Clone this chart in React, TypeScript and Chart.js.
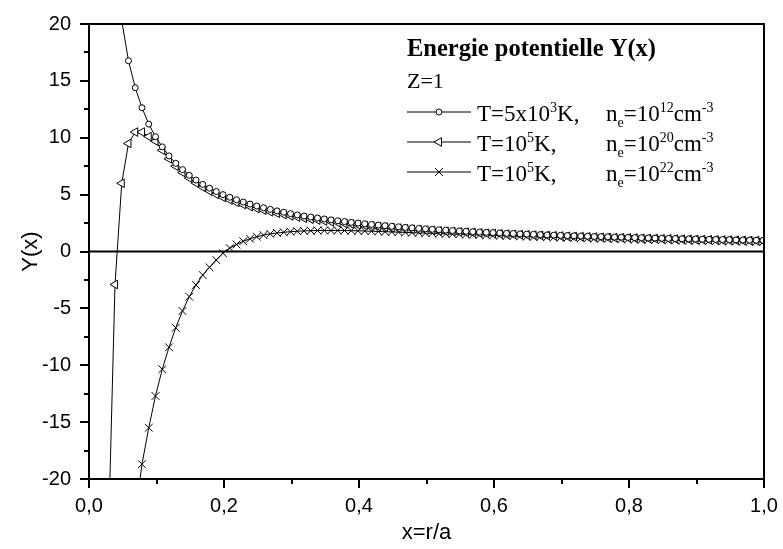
import React, { useEffect, useRef } from 'react';
import { Chart, registerables } from 'chart.js';

Chart.register(...registerables);

// x = r/a sample positions
const xValues = [
  0.0285, 0.0385, 0.0485, 0.0585, 0.0685, 0.0785, 0.0885, 0.0985, 0.1085, 0.1185,
  0.1285, 0.1385, 0.1485, 0.1585, 0.1685, 0.1785, 0.1885, 0.1985, 0.2085, 0.2185,
  0.2285, 0.2385, 0.2485, 0.2585, 0.2685, 0.2785, 0.2885, 0.2985, 0.3085, 0.3185,
  0.3285, 0.3385, 0.3485, 0.3585, 0.3685, 0.3785, 0.3885, 0.3985, 0.4085, 0.4185,
  0.4285, 0.4385, 0.4485, 0.4585, 0.4685, 0.4785, 0.4885, 0.4985, 0.5085, 0.5185,
  0.5285, 0.5385, 0.5485, 0.5585, 0.5685, 0.5785, 0.5885, 0.5985, 0.6085, 0.6185,
  0.6285, 0.6385, 0.6485, 0.6585, 0.6685, 0.6785, 0.6885, 0.6985, 0.7085, 0.7185,
  0.7285, 0.7385, 0.7485, 0.7585, 0.7685, 0.7785, 0.7885, 0.7985, 0.8085, 0.8185,
  0.8285, 0.8385, 0.8485, 0.8585, 0.8685, 0.8785, 0.8885, 0.8985, 0.9085, 0.9185,
  0.9285, 0.9385, 0.9485, 0.9585, 0.9685, 0.9785, 0.9885, 0.9985,
];

// T=5x10^3 K, ne=10^12 cm^-3 (circles)
const seriesCircles = [
  34.0, 25.5, 20.3, 16.77, 14.4, 12.64, 11.2, 10.09, 9.2, 8.4,
  7.75, 7.2, 6.7, 6.28, 5.9, 5.57, 5.27, 5.0, 4.77, 4.55,
  4.35, 4.17, 4.0, 3.85, 3.7, 3.57, 3.45, 3.33, 3.22, 3.12,
  3.03, 2.94, 2.86, 2.78, 2.70, 2.63, 2.56, 2.50, 2.44, 2.38,
  2.32, 2.27, 2.22, 2.17, 2.12, 2.08, 2.03, 1.99, 1.95, 1.91,
  1.88, 1.84, 1.81, 1.78, 1.74, 1.71, 1.68, 1.66, 1.63, 1.60,
  1.58, 1.55, 1.53, 1.51, 1.48, 1.46, 1.44, 1.42, 1.40, 1.38,
  1.36, 1.34, 1.32, 1.31, 1.29, 1.27, 1.26, 1.24, 1.22, 1.21,
  1.19, 1.18, 1.16, 1.15, 1.14, 1.12, 1.11, 1.10, 1.08, 1.07,
  1.06, 1.05, 1.04, 1.02, 1.01, 1.00, 0.99, 0.98,
];

// T=10^5 K, ne=10^20 cm^-3 (triangles)
const seriesTriangles = [
  -25.7, -2.9, 6.0, 9.5, 10.5, 10.5, 10.1, 9.7, 8.9, 8.15,
  7.5, 6.95, 6.45, 6.02, 5.65, 5.32, 5.02, 4.76, 4.53, 4.32,
  4.12, 3.95, 3.78, 3.63, 3.49, 3.36, 3.24, 3.13, 3.03, 2.93,
  2.84, 2.76, 2.68, 2.61, 2.54, 2.47, 2.41, 2.35, 2.29, 2.24,
  2.19, 2.14, 2.09, 2.05, 2.00, 1.96, 1.92, 1.88, 1.85, 1.81,
  1.78, 1.75, 1.72, 1.69, 1.66, 1.63, 1.60, 1.58, 1.55, 1.53,
  1.50, 1.48, 1.46, 1.44, 1.42, 1.40, 1.38, 1.36, 1.34, 1.32,
  1.30, 1.29, 1.27, 1.25, 1.24, 1.22, 1.21, 1.19, 1.18, 1.16,
  1.15, 1.14, 1.12, 1.11, 1.10, 1.08, 1.07, 1.06, 1.05, 1.04,
  1.02, 1.01, 1.00, 0.99, 0.98, 0.97, 0.96, 0.95,
];

// T=10^5 K, ne=10^22 cm^-3 (crosses)
const seriesCrosses = [
  -65, -48, -37, -29, -23.2, -18.7, -15.5, -12.7, -10.36, -8.42,
  -6.7, -5.23, -3.97, -2.94, -2.07, -1.39, -0.75, -0.15, 0.3, 0.62,
  0.9, 1.12, 1.3, 1.44, 1.55, 1.63, 1.69, 1.74, 1.78, 1.81,
  1.83, 1.84, 1.85, 1.85, 1.85, 1.84, 1.83, 1.82, 1.80, 1.78,
  1.76, 1.74, 1.72, 1.70, 1.68, 1.66, 1.64, 1.62, 1.60, 1.57,
  1.55, 1.53, 1.51, 1.49, 1.47, 1.45, 1.43, 1.41, 1.39, 1.37,
  1.35, 1.33, 1.31, 1.29, 1.28, 1.26, 1.24, 1.22, 1.21, 1.19,
  1.17, 1.16, 1.14, 1.13, 1.11, 1.10, 1.08, 1.07, 1.05, 1.04,
  1.03, 1.01, 1.00, 0.99, 0.97, 0.96, 0.95, 0.94, 0.93, 0.92,
  0.91, 0.90, 0.89, 0.88, 0.87, 0.86, 0.85, 0.84,
];

const xMajorTicks = [0, 0.2, 0.4, 0.6, 0.8, 1.0];
const xTickLabels = ['0,0', '0,2', '0,4', '0,6', '0,8', '1,0'];
const xMinorTicks = [0.1, 0.3, 0.5, 0.7, 0.9];
const yMajorTicks = [-20, -15, -10, -5, 0, 5, 10, 15, 20];
const yMinorTicks = [-17.5, -12.5, -7.5, -2.5, 2.5, 7.5, 12.5, 17.5];

const legendTitle = 'Energie potentielle Y(x)';
const legendSubtitle = 'Z=1';
type Part = { t: string; s?: 'sup' | 'sub'; x?: number };
const legendRows: { marker: string; parts: Part[] }[] = [
  {
    marker: 'circle',
    parts: [{ t: 'T=5x10' }, { t: '3', s: 'sup' }, { t: 'K,' }, { t: 'n', x: 606 }, { t: 'e', s: 'sub' }, { t: '=10' }, { t: '12', s: 'sup' }, { t: 'cm' }, { t: '-3', s: 'sup' }],
  },
  {
    marker: 'triangle',
    parts: [{ t: 'T=10' }, { t: '5', s: 'sup' }, { t: 'K,' }, { t: 'n', x: 606 }, { t: 'e', s: 'sub' }, { t: '=10' }, { t: '20', s: 'sup' }, { t: 'cm' }, { t: '-3', s: 'sup' }],
  },
  {
    marker: 'cross',
    parts: [{ t: 'T=10' }, { t: '5', s: 'sup' }, { t: 'K,' }, { t: 'n', x: 606 }, { t: 'e', s: 'sub' }, { t: '=10' }, { t: '22', s: 'sup' }, { t: 'cm' }, { t: '-3', s: 'sup' }],
  },
];

const SANS = "'Liberation Sans', Arial, sans-serif";
const SERIF = "'Liberation Serif', 'Times New Roman', serif";

function drawMarker(ctx: CanvasRenderingContext2D, kind: string, x: number, y: number) {
  ctx.save();
  ctx.strokeStyle = '#000';
  ctx.fillStyle = '#fff';
  ctx.lineWidth = 1;
  ctx.beginPath();
  if (kind === 'circle') {
    ctx.arc(x, y, 3, 0, Math.PI * 2);
    ctx.fill();
    ctx.stroke();
  } else if (kind === 'triangle') {
    const r = 5;
    ctx.moveTo(x - r, y);
    ctx.lineTo(x + r * 0.5, y - r * 0.866);
    ctx.lineTo(x + r * 0.5, y + r * 0.866);
    ctx.closePath();
    ctx.fill();
    ctx.stroke();
  } else {
    const d = 4;
    ctx.moveTo(x - d, y - d);
    ctx.lineTo(x + d, y + d);
    ctx.moveTo(x - d, y + d);
    ctx.lineTo(x + d, y - d);
    ctx.stroke();
  }
  ctx.restore();
}

const decorPlugin = {
  id: 'decor',
  beforeDatasetsDraw(chart: any) {
    const { ctx, chartArea, scales } = chart;
    const y0 = scales.y.getPixelForValue(0);
    ctx.save();
    ctx.strokeStyle = '#000';
    ctx.lineWidth = 2;
    ctx.beginPath();
    ctx.moveTo(chartArea.left, y0);
    ctx.lineTo(chartArea.right, y0);
    ctx.stroke();
    ctx.restore();
  },
  afterDraw(chart: any) {
    const { ctx, chartArea, scales } = chart;
    const { left, right, top, bottom } = chartArea;
    ctx.save();
    ctx.strokeStyle = '#000';
    ctx.lineWidth = 2;
    ctx.beginPath();
    ctx.moveTo(left, top);
    ctx.lineTo(right, top);
    ctx.lineTo(right, bottom);
    ctx.stroke();
    // ticks (major + minor)
    ctx.beginPath();
    xMajorTicks.forEach((v) => {
      const px = Math.round(scales.x.getPixelForValue(v));
      ctx.moveTo(px, bottom);
      ctx.lineTo(px, bottom + 9);
    });
    xMinorTicks.forEach((v) => {
      const px = Math.round(scales.x.getPixelForValue(v));
      ctx.moveTo(px, bottom);
      ctx.lineTo(px, bottom + 5);
    });
    yMajorTicks.forEach((v) => {
      const py = Math.round(scales.y.getPixelForValue(v));
      ctx.moveTo(left - 9, py);
      ctx.lineTo(left, py);
    });
    yMinorTicks.forEach((v) => {
      const py = Math.round(scales.y.getPixelForValue(v));
      ctx.moveTo(left - 5, py);
      ctx.lineTo(left, py);
    });
    ctx.stroke();

    // axis titles
    ctx.fillStyle = '#000';
    ctx.font = `22px ${SANS}`;
    ctx.textAlign = 'center';
    ctx.textBaseline = 'middle';
    ctx.fillText('x=r/a', (left + right) / 2, 533);
    ctx.save();
    ctx.translate(31, (top + bottom) / 2);
    ctx.rotate(-Math.PI / 2);
    ctx.fillText('Y(x)', 0, 0);
    ctx.restore();

    // legend
    ctx.textAlign = 'left';
    ctx.textBaseline = 'alphabetic';
    ctx.font = `bold 24.5px ${SERIF}`;
    ctx.fillText(legendTitle, 407, 56);
    ctx.font = `22px ${SERIF}`;
    ctx.fillText(legendSubtitle, 407, 88);
    const size = 23;
    legendRows.forEach((row, i) => {
      const my = 112 + i * 30;
      ctx.beginPath();
      ctx.lineWidth = 1;
      ctx.moveTo(407, my);
      ctx.lineTo(471, my);
      ctx.stroke();
      drawMarker(ctx, row.marker, 439, my);
      let x = 477;
      const base = my + 9;
      row.parts.forEach((p) => {
        if (p.x !== undefined) x = p.x;
        const fs = p.s ? Math.round(size * 0.6) : size;
        ctx.font = `${fs}px ${SERIF}`;
        const dy = p.s === 'sup' ? -size * 0.38 : p.s === 'sub' ? size * 0.25 : 0;
        ctx.fillText(p.t, x, base + dy);
        x += ctx.measureText(p.t).width;
      });
    });
    ctx.restore();
  },
};

const zeroPad = (s: any) => {
  s.paddingLeft = 0;
  s.paddingRight = 0;
  s.paddingTop = 0;
  s.paddingBottom = 0;
};

export default function App() {
  const ref = useRef<HTMLCanvasElement | null>(null);
  useEffect(() => {
    document.body.style.margin = '0';
    const mk = (vals: number[]) => xValues.map((x, i) => ({ x, y: vals[i] }));
    const base = {
      borderColor: '#000',
      borderWidth: 1,
      pointBorderColor: '#000',
      pointBackgroundColor: '#fff',
      pointBorderWidth: 1,
      tension: 0,
      fill: false,
    };
    const chart = new Chart(ref.current as HTMLCanvasElement, {
      type: 'line',
      data: {
        datasets: [
          { ...base, label: 'T=5x10^3K', data: mk(seriesCircles), pointStyle: 'circle', pointRadius: 3 },
          { ...base, label: 'T=10^5K 1e20', data: mk(seriesTriangles), pointStyle: 'triangle', pointRotation: -90, pointRadius: 5 },
          { ...base, label: 'T=10^5K 1e22', data: mk(seriesCrosses), pointStyle: 'crossRot', pointRadius: 5.5 },
        ],
      },
      options: {
        animation: false,
        responsive: true,
        maintainAspectRatio: false,
        layout: { padding: { left: 0, right: 19, top: 24, bottom: 0 } },
        plugins: { legend: { display: false }, tooltip: { enabled: false } },
        scales: {
          x: {
            type: 'linear',
            min: 0,
            max: 1,
            afterBuildTicks: (s: any) => {
              s.ticks = xMajorTicks.map((v) => ({ value: v }));
            },
            ticks: {
              autoSkip: false,
              maxRotation: 0,
              padding: 15,
              color: '#000',
              font: { family: SANS, size: 20 },
              callback: (_v: any, i: number) => xTickLabels[i] ?? '',
            },
            grid: { display: false, drawOnChartArea: false, drawTicks: false },
            border: { display: true, color: '#000', width: 2 },
            afterFit: (s: any) => {
              s.height = 70;
              zeroPad(s);
            },
          },
          y: {
            type: 'linear',
            min: -20,
            max: 20,
            afterBuildTicks: (s: any) => {
              s.ticks = yMajorTicks.map((v) => ({ value: v }));
            },
            ticks: {
              autoSkip: false,
              padding: 18,
              color: '#000',
              font: { family: SANS, size: 20 },
              callback: (v: any) => String(v),
            },
            grid: { display: false, drawOnChartArea: false, drawTicks: false },
            border: { display: true, color: '#000', width: 2 },
            afterFit: (s: any) => {
              s.width = 89;
              zeroPad(s);
            },
          },
        },
      },
      plugins: [decorPlugin],
    });
    return () => chart.destroy();
  }, []);
  return (
    <div style={{ position: 'relative', width: 783, height: 549 }}>
      <canvas ref={ref} />
    </div>
  );
}
